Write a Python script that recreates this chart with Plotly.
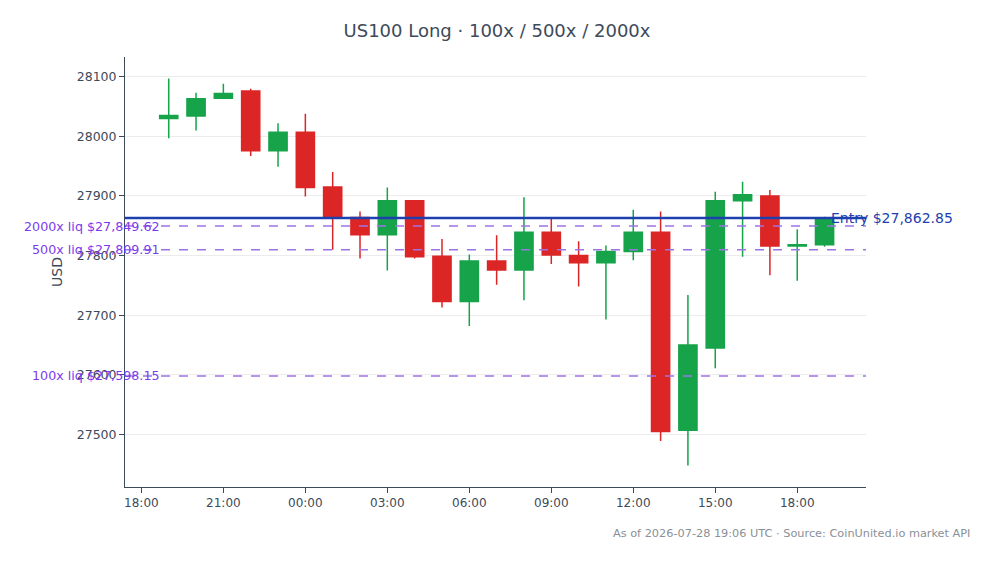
import pandas as pd
import plotly.graph_objects as go

# ---- data ----
times = pd.date_range("2026-07-27 19:00", "2026-07-28 19:00", freq="h")
opens = [28030, 28034, 28064, 28076, 27976, 28007, 27915, 27864, 27835, 27892,
         27799, 27723, 27791, 27776, 27839, 27800, 27788, 27807, 27839, 27507,
         27645, 27892, 27900, 27816, 27818]
highs = [28097, 28073, 28088, 28080, 28022, 28038, 27940, 27874, 27914, 27893,
         27828, 27802, 27834, 27898, 27862, 27824, 27817, 27877, 27874, 27734,
         27907, 27924, 27910, 27844, 27865]
lows = [27997, 28010, 28063, 27967, 27949, 27899, 27810, 27795, 27775, 27795,
        27713, 27682, 27751, 27725, 27786, 27748, 27693, 27792, 27489, 27448,
        27611, 27798, 27767, 27758, 27815]
closes = [28035, 28063, 28072, 27976, 28007, 27914, 27864, 27835, 27892, 27798,
          27723, 27791, 27776, 27839, 27801, 27788, 27807, 27839, 27505, 27650,
          27892, 27902, 27816, 27818, 27860]

entry_price = 27862.85
liq_labels = ["100x", "500x", "2000x"]
liq_prices = [27598.15, 27809.91, 27849.62]

x_range = ["2026-07-27 17:24", "2026-07-28 20:31"]

title_text = "US100 Long · 100x / 500x / 2000x"
footer_text = "As of 2026-07-28 19:06 UTC · Source: CoinUnited.io market API"

FONT = "DejaVu Sans, sans-serif"
GREEN = "#16a34a"
RED = "#dc2626"
PURPLE_LINE = "#9d74e6"
PURPLE_TEXT = "#7c3aed"
BLUE = "#1e40af"
AXIS = "#3d4a5a"

fig = go.Figure()
fig.add_trace(go.Candlestick(
    x=times, open=opens, high=highs, low=lows, close=closes,
    increasing=dict(line=dict(color=GREEN, width=1.5), fillcolor=GREEN),
    decreasing=dict(line=dict(color=RED, width=1.5), fillcolor=RED),
    showlegend=False, name="US100",
))

# entry line
fig.add_shape(type="line", xref="paper", x0=0, x1=1, yref="y",
              y0=entry_price, y1=entry_price,
              line=dict(color=BLUE, width=2.5))
fig.add_annotation(xref="paper", x=0.950, yref="y", y=entry_price,
                   xanchor="left", yanchor="middle", showarrow=False,
                   text=f"Entry ${entry_price:,.2f}",
                   font=dict(family=FONT, size=14, color=BLUE))

for lab, p in zip(liq_labels, liq_prices):
    fig.add_shape(type="line", xref="paper", x0=0, x1=1, yref="y",
                  y0=p, y1=p, line=dict(color=PURPLE_LINE, width=1.5, dash="dash"))
    fig.add_annotation(xref="paper", x=0.050, yref="y", y=p,
                       xanchor="right", yanchor="middle", showarrow=False,
                       text=f"{lab} liq ${p:,.2f}",
                       font=dict(family=FONT, size=12.7, color=PURPLE_TEXT))

fig.add_annotation(xref="paper", x=1.143, yref="paper", y=-0.107,
                   xanchor="right", yanchor="middle", showarrow=False,
                   text=footer_text,
                   font=dict(family=FONT, size=11.3, color="#8a9099"))

fig.update_layout(
    width=994, height=564,
    margin=dict(l=125, r=128, t=57, b=77),
    paper_bgcolor="white", plot_bgcolor="white",
    font=dict(family=FONT, size=12, color=AXIS),
    title=dict(text=title_text, x=0.5, xanchor="center", y=1 - 31 / 564,
               yanchor="middle", yref="container",
               font=dict(family=FONT, size=18, color=AXIS)),
    showlegend=False,
    boxgap=0.05,
)
fig.update_xaxes(
    rangeslider_visible=False, range=x_range,
    showgrid=False, showline=True, linecolor=AXIS, linewidth=1,
    ticks="outside", ticklen=5, tickcolor=AXIS,
    tickformat="%H:%M", dtick=3 * 3600 * 1000,
    tick0="2026-07-27 18:00",
    tickfont=dict(family=FONT, size=12, color=AXIS),
    zeroline=False,
)
fig.update_yaxes(
    title=dict(text="USD", font=dict(family=FONT, size=14, color=AXIS), standoff=10),
    showgrid=True, gridcolor="#ececec", gridwidth=1,
    showline=True, linecolor=AXIS, linewidth=1,
    ticks="outside", ticklen=5, tickcolor=AXIS,
    dtick=100, tickformat="d",
    tickfont=dict(family=FONT, size=12.5, color=AXIS),
    zeroline=False,
)

fig.write_html("out.html")
